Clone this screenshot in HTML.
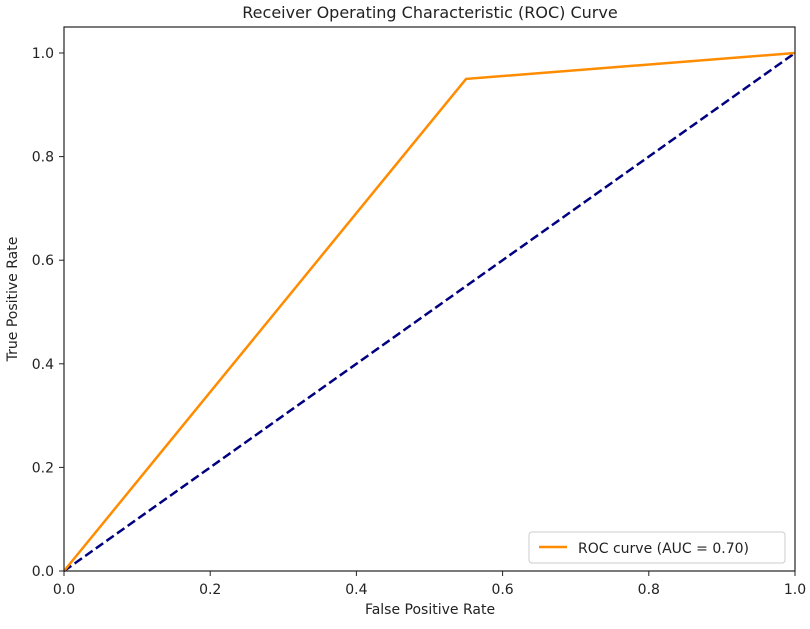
<!DOCTYPE html>
<html><head><meta charset="utf-8"><style>
body{margin:0;background:#fff;font-family:"Liberation Sans","DejaVu Sans",sans-serif}
</style></head><body>
<svg id="chart" width="810" height="624" xmlns="http://www.w3.org/2000/svg" font-family="DejaVu Sans, Liberation Sans, sans-serif">
<text x="430" y="18" text-anchor="middle" font-size="16" fill="#222">Receiver Operating Characteristic (ROC) Curve</text>
<g id="axes"></g>
<g id="marks"></g>
<rect x="64" y="27" width="731" height="544" fill="none" stroke="#222" stroke-width="1.2"/>
<text x="430" y="614" text-anchor="middle" font-size="14" fill="#222">False Positive Rate</text>
<text transform="translate(17,299) rotate(-90)" text-anchor="middle" font-size="14" fill="#222">True Positive Rate</text>
<g>
<rect x="529" y="532" width="256" height="31" rx="3" fill="#fff" stroke="#ccc"/>
<line x1="539" y1="547" x2="567" y2="547" stroke="#ff8c00" stroke-width="2.5"/>
<text x="578" y="553" font-size="14" fill="#222">ROC curve (AUC = 0.70)</text>
</g>
</svg>
<script>
const fpr=[0,0.55,1];
const tpr=[0,0.95,1];
const chanceX=[0,1];
const chanceY=[0,1];
const xTicks=[0,0.2,0.4,0.6,0.8,1.0];
const yTicks=[0,0.2,0.4,0.6,0.8,1.0];
const NS="http://www.w3.org/2000/svg";
const X=v=>64+v*731, Y=v=>571-v*518;
const axes=document.getElementById('axes'), marks=document.getElementById('marks');
function mk(t,a,p){const e=document.createElementNS(NS,t);for(const k in a)e.setAttribute(k,a[k]);p.appendChild(e);return e;}
xTicks.forEach(v=>{
 const l=mk('line',{x1:X(v),x2:X(v),y1:571,y2:576,stroke:'#222'},axes);
 
 
 const t=mk('text',{x:X(v),y:594,'text-anchor':'middle','font-size':14,fill:'#222'},axes);t.textContent=v.toFixed(1);
 
 
});
yTicks.forEach(v=>{
 const l=mk('line',{x1:59,x2:64,y1:Y(v),y2:Y(v),stroke:'#222'},axes);
 
 
 const t=mk('text',{x:54,y:Y(v)+5,'text-anchor':'end','font-size':14,fill:'#222'},axes);t.textContent=v.toFixed(1);
 
 
});
const c=mk('polyline',{points:chanceX.map((v,i)=>X(v)+','+Y(chanceY[i])).join(' '),fill:'none',stroke:'#000080','stroke-width':2.5,'stroke-dasharray':'9,4'},marks);


const r=mk('polyline',{points:fpr.map((v,i)=>X(v)+','+Y(tpr[i])).join(' '),fill:'none',stroke:'#ff8c00','stroke-width':2.5},marks);


</script>
</body></html>
